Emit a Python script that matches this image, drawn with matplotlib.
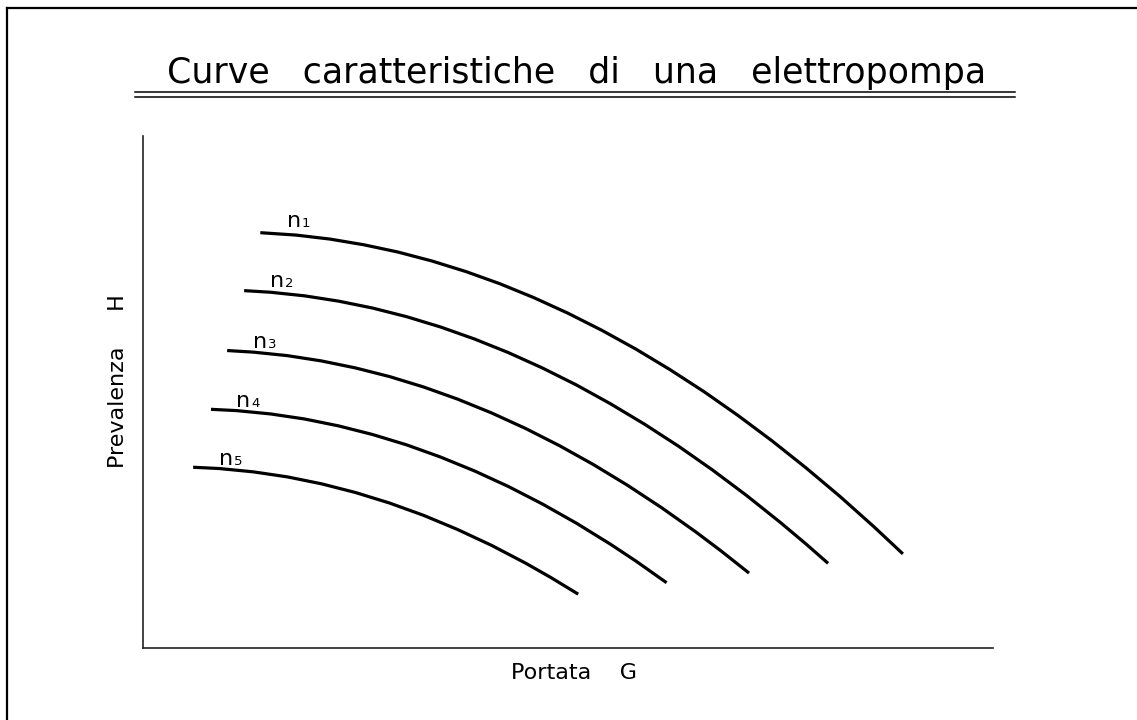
import matplotlib
matplotlib.use("Agg")
import matplotlib.pyplot as plt
from matplotlib.lines import Line2D

# ---- data (arbitrary units) ----
title = "Curve   caratteristiche   di   una   elettropompa"
xlabel = "Portata    G"
ylabel = "Prevalenza     H"

curve_names = ["1", "2", "3", "4", "5"]

g_n1 = [13.8, 18, 22, 26, 30, 34, 38, 42, 46, 50, 54, 58, 62, 66, 70, 74, 78, 82, 86, 89.4]
h_n1 = [48.67, 48.39, 47.92, 47.25, 46.40, 45.35, 44.11, 42.68, 41.05, 39.23,
        37.22, 35.02, 32.62, 30.04, 27.25, 24.28, 21.11, 17.76, 14.20, 11.03]

g_n2 = [11.9, 15, 19, 23, 27, 31, 35, 39, 43, 47, 51, 55, 59, 63, 67, 71, 75, 78, 80.6]
h_n2 = [41.88, 41.69, 41.27, 40.65, 39.84, 38.83, 37.62, 36.21, 34.61, 32.81,
        30.82, 28.62, 26.23, 23.65, 20.86, 17.88, 14.70, 12.19, 9.92]

g_n3 = [9.9, 13, 17, 21, 25, 29, 33, 37, 41, 45, 49, 53, 57, 61, 65, 68, 71.3]
h_n3 = [34.86, 34.67, 34.26, 33.64, 32.82, 31.81, 30.59, 29.17, 27.55, 25.73,
        23.71, 21.49, 19.07, 16.45, 13.63, 11.38, 8.78]

g_n4 = [8.0, 11, 15, 19, 23, 27, 31, 35, 39, 43, 47, 51, 55, 58, 61.6]
h_n4 = [27.97, 27.82, 27.43, 26.84, 26.03, 25.02, 23.81, 22.38, 20.75, 18.92,
        16.87, 14.62, 12.16, 10.18, 7.65]

g_n5 = [5.9, 9, 13, 17, 21, 25, 29, 33, 37, 41, 45, 48, 51.2]
h_n5 = [21.18, 21.03, 20.64, 20.05, 19.24, 18.22, 16.99, 15.55, 13.89, 12.03,
        9.95, 8.25, 6.31]

label_g = [16.9, 14.9, 12.9, 10.9, 8.9]
label_h = [49.3, 42.3, 35.1, 28.2, 21.4]

curves_g = [g_n1, g_n2, g_n3, g_n4, g_n5]
curves_h = [h_n1, h_n2, h_n3, h_n4, h_n5]

# ---- figure ----
W, H = 1137, 720
fig = plt.figure(figsize=(W / 100, H / 100), dpi=100)
fig.patch.set_facecolor("white")

def fx(px):
    return px / W

def fy(py):
    return 1 - py / H

# page border (top and left edges)
fig.add_artist(Line2D([fx(7), fx(1137)], [fy(8), fy(8)], color="black", lw=1.6))
fig.add_artist(Line2D([fx(7), fx(7)], [fy(8), fy(720)], color="black", lw=1.6))

# title with double underline
fig.text(fx(577), fy(83), title, ha="center", va="baseline",
         fontsize=25, family="DejaVu Sans", color="black")
fig.add_artist(Line2D([fx(135), fx(1015)], [fy(92), fy(92)], color="black", lw=1.1))
fig.add_artist(Line2D([fx(135), fx(1015)], [fy(96.5), fy(96.5)], color="black", lw=1.1))

ax = fig.add_axes([fx(143), fy(648), (993 - 143) / W, (648 - 136) / H])
ax.set_xlim(0, 100)
ax.set_ylim(0, 60)
for s in ["top", "right"]:
    ax.spines[s].set_visible(False)
for s in ["left", "bottom"]:
    ax.spines[s].set_color("#222222")
    ax.spines[s].set_linewidth(1.2)
ax.set_xticks([])
ax.set_yticks([])

for g, h in zip(curves_g, curves_h):
    ax.plot(g, h, color="black", lw=2.3, solid_capstyle="butt",
            solid_joinstyle="round")

for name, lg, lh in zip(curve_names, label_g, label_h):
    ax.text(lg, lh, "n", fontsize=16, ha="left", va="baseline", color="black")
    ax.annotate(name, xy=(lg, lh), xytext=(11, 0), textcoords="offset points",
                fontsize=9.5, ha="left", va="baseline", color="black")

fig.text(fx(574), fy(679), xlabel, ha="center", va="baseline", fontsize=16)
fig.text(fx(118.5), fy(381), ylabel, ha="center", va="center", rotation=90,
         rotation_mode="anchor", fontsize=16)

fig.savefig("out.png", dpi=100, facecolor="white")
